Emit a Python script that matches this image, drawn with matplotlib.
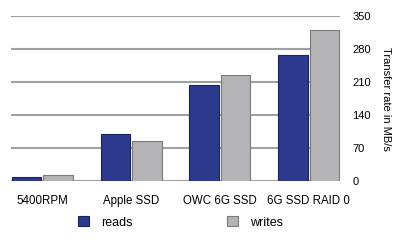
import matplotlib
matplotlib.use("Agg")
import matplotlib.pyplot as plt
import numpy as np

categories = ["5400RPM", "Apple SSD", "OWC 6G SSD", "6G SSD RAID 0"]
reads = [8, 100, 204, 267]
writes = [12, 85, 225, 320]
yticks = [0, 70, 140, 210, 280, 350]
series_names = ["reads", "writes"]

plt.rcParams['font.family'] = ['Liberation Sans', 'DejaVu Sans']

fig = plt.figure(figsize=(4.03, 2.42), dpi=100)
ax = fig.add_axes([11/403, 61/242, 329/403, 165/242])

x = np.arange(len(categories))
w = 0.35
b1 = ax.bar(x - w/2, reads, width=w*0.96, color='#2c3a8e', edgecolor='#1a2360', linewidth=0.8, label=series_names[0], zorder=3)
b2 = ax.bar(x + w/2, writes, width=w*0.96, color='#b4b4b6', edgecolor='#7a7a7c', linewidth=0.8, label=series_names[1], zorder=3)

ax.set_xlim(-w, len(categories) - 1 + w)
ax.set_ylim(0, 350)
ax.set_yticks(yticks)
ax.set_yticklabels([str(t) for t in yticks], fontsize=8)
ax.yaxis.tick_right()
ax.yaxis.set_label_position('right')
ax.tick_params(axis='y', length=0, pad=9)
ax.set_xticks(x)
ax.set_xticklabels(categories, fontsize=8.3)
ax.tick_params(axis='x', length=0, pad=10)
ax.grid(axis='y', color='#a0a0a0', linewidth=1.5, zorder=0)
for s in ax.spines.values():
    s.set_visible(False)
ax.set_ylabel("Transfer rate in MB/s", rotation=270, fontsize=8, labelpad=14)

leg = ax.legend(handles=[b1, b2], loc='center', bbox_to_anchor=(0.515, -0.25), ncol=2,
                frameon=False, fontsize=9, handlelength=0.9, handleheight=0.9,
                columnspacing=7.5, handletextpad=1.0)

fig.savefig("out.png", dpi=100, facecolor='white')
